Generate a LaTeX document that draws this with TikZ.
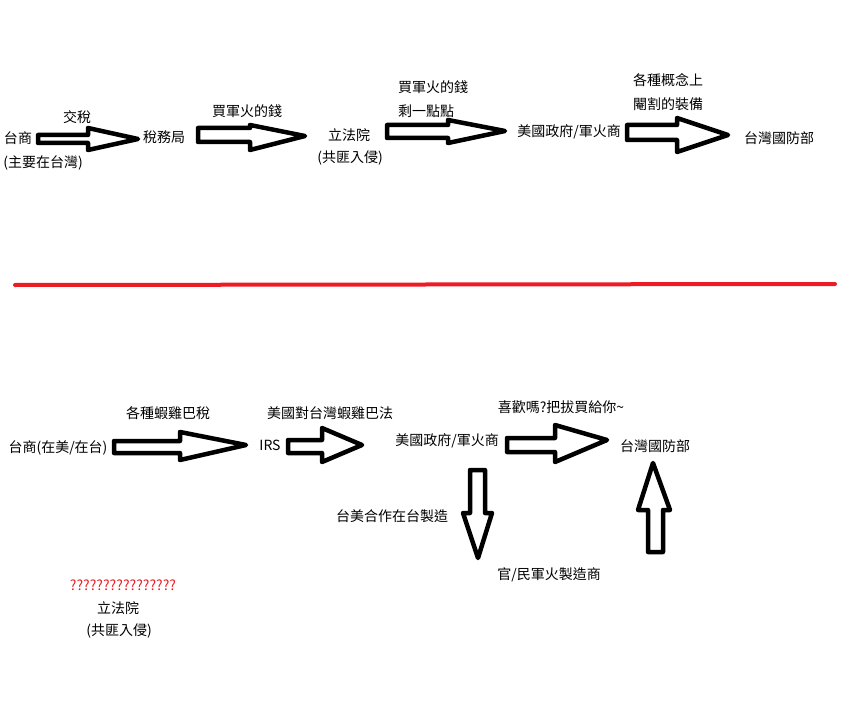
\documentclass[tikz,border=0pt]{standalone}
\usepackage{fontspec}
\setmainfont{Noto Sans CJK TC}
\definecolor{paintred}{HTML}{ED1C24}
\tikzset{
  lbl/.style={inner sep=0pt, font=\fontsize{14}{16}\selectfont},
  blk/.style={draw=black, line width=4.5pt, fill=white, line join=round},
  divider/.style={draw=paintred, line width=4pt, line cap=round}
}
% horizontal block arrow: x1, ytop, ybot, xbase, headtop, headbot, xtip, ytip
\newcommand\harrow[8]{\draw[blk] (#1,#2) -- (#4,#2) -- (#4,#5) -- (#7,#8) -- (#4,#6) -- (#4,#3) -- (#1,#3) -- cycle;}
% vertical block arrow: xleft, xright, yend, ybase, headleft, headright, xtip, ytip
\newcommand\varrow[8]{\draw[blk] (#1,#3) -- (#1,#4) -- (#5,#4) -- (#7,#8) -- (#6,#4) -- (#2,#4) -- (#2,#3) -- cycle;}
\begin{document}
\begin{tikzpicture}[x=1pt,y=-1pt]
\useasboundingbox[fill=white] (0,0) rectangle (850,703);

% ---- top row ----
\node[lbl] (ts) at (18,138) {台商};
\node[lbl] (tssub) at (43,163) {(主要在台灣)};
\node[lbl] (jiaoshui) at (77,117) {交稅};
\node[lbl] (irs1) at (164,137) {稅務局};
\node[lbl] (money1) at (247,111) {買軍火的錢};
\node[lbl] (lfy1) at (349,135) {立法院};
\node[lbl] (gf1) at (350,158) {(共匪入侵)};
\node[lbl,anchor=west] (money2) at (398,87) {買軍火的錢};
\node[lbl,anchor=west] (little) at (398,111) {剩一點點};
\node[lbl] (us1) at (569,132) {美國政府/軍火商};
\node[lbl,anchor=west] (concept) at (633,80) {各種概念上};
\node[lbl,anchor=west] (castr) at (633,104) {閹割的裝備};
\node[lbl] (mnd1) at (779,138) {台灣國防部};

\harrow{38}{135}{143}{88}{128}{150}{138}{139}
\harrow{198}{128}{142}{250}{125}{150}{305}{136}
\harrow{387}{125}{138}{448}{120}{143}{505}{131}
\harrow{627}{125}{140}{677}{118}{152}{728}{135}

% ---- divider ----
\coordinate (dl) at (15,285);
\coordinate (dr) at (835,284);
\draw[divider] (dl) -- (dr);

% ---- bottom row ----
\node[lbl] (ts2) at (58,448) {台商(在美/在台)};
\node[lbl] (tax2) at (168,413) {各種蝦雞巴稅};
\node[lbl] (irs2) at (270,445) {IRS};
\node[lbl] (law) at (330,413) {美國對台灣蝦雞巴法};
\node[lbl] (us2) at (447,441) {美國政府/軍火商};
\node[lbl] (like) at (561,407) {喜歡嗎?把拔買給你\textasciitilde};
\node[lbl] (mnd2) at (655,446) {台灣國防部};
\node[lbl] (coop) at (392,516) {台美合作在台製造};
\node[lbl] (maker) at (549,575) {官/民軍火製造商};
\node[lbl,text=paintred] (qs) at (123,585) {????????????????};
\node[lbl] (lfy2) at (118,608) {立法院};
\node[lbl] (gf2) at (119,631) {(共匪入侵)};

\harrow{114}{441}{453}{180}{432}{460}{246}{445}
\harrow{288}{440}{453}{322}{428}{462}{362}{445}
\harrow{507}{438}{452}{555}{425}{462}{607}{440}
\varrow{470}{485}{470}{513}{463}{492}{478}{558}
\varrow{648}{663}{552}{510}{638}{670}{653}{463}
\end{tikzpicture}
\end{document}
